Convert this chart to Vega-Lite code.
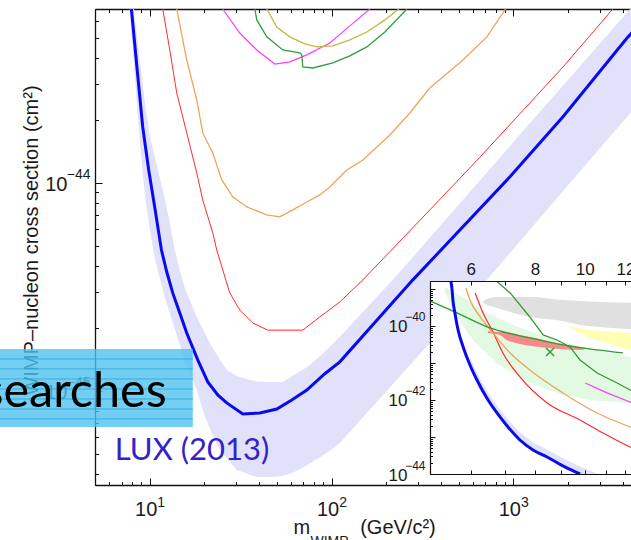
{
  "$schema": "https://vega.github.io/schema/vega-lite/v6.json",
  "width": 536,
  "height": 476,
  "autosize": "none",
  "padding": {"left": 95, "top": 9, "right": 0, "bottom": 55},
  "background": "white",
  "config": {
    "view": {"stroke": null},
    "axis": {
      "grid": false,
      "labelFont": "Liberation Sans",
      "titleFont": "Liberation Sans",
      "labelColor": "#1a1a1a",
      "titleColor": "#1a1a1a",
      "domainColor": "#111111",
      "tickColor": "#111111",
      "titleFontWeight": "normal",
      "labelOverlap": false,
      "labelFlush": false
    }
  },
  "datasets": {
    "lux": [
      {"m": 7.93, "s": 6.86e-44}, {"m": 8.48, "s": 3.69e-44}, {"m": 9.15, "s": 1.86e-44},
      {"m": 9.87, "s": 1.155e-44}, {"m": 10.65, "s": 7.67e-45}, {"m": 11.6, "s": 4.76e-45},
      {"m": 12.41, "s": 3.73e-45}, {"m": 13.38, "s": 2.96e-45}, {"m": 14.63, "s": 2.37e-45},
      {"m": 15.98, "s": 1.9e-45}, {"m": 18.37, "s": 1.41e-45}, {"m": 20.86, "s": 1.105e-45},
      {"m": 23.67, "s": 9.57e-46}, {"m": 26.53, "s": 8.76e-46}, {"m": 32.5, "s": 7.75e-46},
      {"m": 40.31, "s": 7.83e-46}, {"m": 50.0, "s": 8.19e-46}, {"m": 60.46, "s": 9.05e-46},
      {"m": 73.12, "s": 1.01e-45}, {"m": 91.87, "s": 1.21e-45}, {"m": 111.1, "s": 1.38e-45},
      {"m": 280.2, "s": 3.42e-45}, {"m": 958, "s": 1.07e-44}, {"m": 1875, "s": 2.08e-44},
      {"m": 4220, "s": 4.98e-44}, {"m": 4977, "s": 5.81e-44}
    ],
    "luxBand": [
      {"m": 7.76, "s": 1e-43, "s2": 6.86e-44}, {"m": 7.86, "s": 1e-43, "s2": 5.94e-44},
      {"m": 8.27, "s": 6.25e-44, "s2": 3.34e-44}, {"m": 8.81, "s": 3.92e-44, "s2": 1.61e-44},
      {"m": 9.39, "s": 2.46e-44, "s2": 8.85e-45}, {"m": 10.0, "s": 1.69e-44, "s2": 6.01e-45},
      {"m": 10.65, "s": 1.34e-44, "s2": 4.36e-45}, {"m": 11.35, "s": 1.063e-44, "s2": 3.49e-45},
      {"m": 12.09, "s": 8.41e-45, "s2": 2.84e-45}, {"m": 12.89, "s": 6.42e-45, "s2": 2.37e-45},
      {"m": 13.73, "s": 4.76e-45, "s2": 1.99e-45}, {"m": 14.63, "s": 3.79e-45, "s2": 1.67e-45},
      {"m": 15.58, "s": 3.13e-45, "s2": 1.41e-45}, {"m": 16.6, "s": 2.74e-45, "s2": 1.23e-45},
      {"m": 18.14, "s": 2.27e-45, "s2": 1.01e-45}, {"m": 20.08, "s": 1.9e-45, "s2": 7.58e-46},
      {"m": 21.94, "s": 1.63e-45, "s2": 6.28e-46}, {"m": 24.29, "s": 1.42e-45, "s2": 5.2e-46},
      {"m": 26.53, "s": 1.26e-45, "s2": 4.76e-46}, {"m": 30.12, "s": 1.18e-45, "s2": 4.17e-46},
      {"m": 34.19, "s": 1.14e-45, "s2": 4.01e-46}, {"m": 38.81, "s": 1.11e-45, "s2": 3.86e-46},
      {"m": 45.76, "s": 1.105e-45, "s2": 3.86e-46}, {"m": 53.95, "s": 1.105e-45, "s2": 3.9e-46},
      {"m": 62.81, "s": 1.2e-45, "s2": 4.09e-46}, {"m": 73.12, "s": 1.3e-45, "s2": 4.38e-46},
      {"m": 86.26, "s": 1.47e-45, "s2": 4.8e-46}, {"m": 97.86, "s": 1.63e-45, "s2": 5.16e-46},
      {"m": 111.1, "s": 1.82e-45, "s2": 5.62e-46}, {"m": 143.1, "s": 2.31e-45, "s2": 7.19e-46},
      {"m": 217.5, "s": 3.42e-45, "s2": 1.08e-45}, {"m": 347.5, "s": 5.46e-45, "s2": 1.7e-45},
      {"m": 715.8, "s": 1.123e-44, "s2": 3.42e-45}, {"m": 1234, "s": 1.94e-44, "s2": 5.96e-45},
      {"m": 2325, "s": 3.64e-44, "s2": 1.137e-44}, {"m": 4438, "s": 6.94e-44, "s2": 2.19e-44}
    ],
    "red": [
      {"m": 11.79, "s": 6.86e-44}, {"m": 12.89, "s": 4.36e-44}, {"m": 14.08, "s": 2.71e-44},
      {"m": 15.98, "s": 1.74e-44}, {"m": 18.14, "s": 1.117e-44}, {"m": 19.57, "s": 8.28e-45},
      {"m": 22.22, "s": 5.75e-45}, {"m": 23.37, "s": 4.76e-45}, {"m": 25.22, "s": 3.82e-45},
      {"m": 27.56, "s": 2.96e-45}, {"m": 31.28, "s": 2.45e-45}, {"m": 36.88, "s": 2.12e-45},
      {"m": 44.61, "s": 1.96e-45}, {"m": 69.5, "s": 1.96e-45}, {"m": 86.26, "s": 2.27e-45},
      {"m": 111.1, "s": 2.68e-45}, {"m": 148.7, "s": 3.42e-45}, {"m": 347.5, "s": 7.42e-45},
      {"m": 655, "s": 1.33e-44}, {"m": 1875, "s": 3.61e-44}, {"m": 3489, "s": 6.79e-44},
      {"m": 3862, "s": 7.42e-44}
    ],
    "orange": [
      {"m": 14.08, "s": 6.86e-44}, {"m": 15.98, "s": 3.9e-44}, {"m": 18.14, "s": 2.51e-44},
      {"m": 19.57, "s": 1.74e-44}, {"m": 22.22, "s": 1.394e-44}, {"m": 24.91, "s": 1.034e-44},
      {"m": 28.63, "s": 8.57e-45}, {"m": 34.19, "s": 7.67e-45}, {"m": 44.05, "s": 7.02e-45},
      {"m": 51.94, "s": 6.87e-45}, {"m": 61.24, "s": 7.42e-45}, {"m": 73.12, "s": 8.1e-45},
      {"m": 86.26, "s": 8.76e-45}, {"m": 97.86, "s": 9.57e-45}, {"m": 121.4, "s": 1.155e-44},
      {"m": 148.7, "s": 1.29e-44}, {"m": 209.4, "s": 1.7e-44}, {"m": 269.7, "s": 2.17e-44},
      {"m": 347.5, "s": 2.86e-44}, {"m": 528, "s": 3.9e-44}, {"m": 715.8, "s": 5.04e-44},
      {"m": 899, "s": 6.79e-44}, {"m": 958, "s": 7.42e-44}
    ],
    "magenta": [
      {"m": 25.22, "s": 6.86e-44}, {"m": 31.28, "s": 5.26e-44}, {"m": 38.81, "s": 4.36e-44},
      {"m": 48.75, "s": 3.73e-44}, {"m": 58.96, "s": 3.82e-44}, {"m": 73.12, "s": 4.13e-44},
      {"m": 97.86, "s": 4.71e-44}, {"m": 126.1, "s": 5.69e-44}, {"m": 162.5, "s": 6.86e-44}
    ],
    "olive": [
      {"m": 44.05, "s": 6.86e-44}, {"m": 50.0, "s": 5.62e-44}, {"m": 58.96, "s": 5.04e-44},
      {"m": 71.3, "s": 4.66e-44}, {"m": 83.0, "s": 4.51e-44}, {"m": 101.7, "s": 4.56e-44},
      {"m": 126.1, "s": 4.87e-44}, {"m": 156.4, "s": 5.32e-44}, {"m": 196.6, "s": 6.08e-44},
      {"m": 234.6, "s": 6.86e-44}
    ],
    "green": [
      {"m": 37.84, "s": 6.86e-44}, {"m": 38.81, "s": 6.08e-44}, {"m": 44.05, "s": 5.04e-44},
      {"m": 53.95, "s": 4.36e-44}, {"m": 66.9, "s": 4.22e-44}, {"m": 68.6, "s": 4.13e-44},
      {"m": 69.5, "s": 3.61e-44}, {"m": 78.9, "s": 3.57e-44}, {"m": 101.7, "s": 3.78e-44},
      {"m": 126.1, "s": 4.08e-44}, {"m": 156.4, "s": 4.51e-44}, {"m": 196.6, "s": 5.32e-44},
      {"m": 259.7, "s": 6.86e-44}
    ],
    "banner": [{"m": 1.494, "m2": 17.25, "s": 1.59e-45, "s2": 6.71e-46}],
    "bannerLines": [
      {"m": 1.494, "m2": 17.25, "s": 1.425e-45}, {"m": 1.494, "m2": 17.25, "s": 1.276e-45},
      {"m": 1.494, "m2": 17.25, "s": 1.142e-45}, {"m": 1.494, "m2": 17.25, "s": 1.022e-45},
      {"m": 1.494, "m2": 17.25, "s": 9.15e-46}, {"m": 1.494, "m2": 17.25, "s": 8.19e-46},
      {"m": 1.494, "m2": 17.25, "s": 7.34e-46}
    ],
    "bannerText": [{"m": 12.4, "s": 8.38e-46, "t": "searches"}],
    "luxLabel": [{"m": 6.42, "s": 4.66e-46, "t": "LUX (2013)"}],
    "insetFrame": [{"m": 5, "m2": 20, "s": 1.64e-39, "s2": 1e-44}],
    "insetGreenRegion": [
      {"m": 5.35, "s": 1.13e-39, "s2": 7.8e-40}, {"m": 5.47, "s": 9.52e-40, "s2": 4.18e-40},
      {"m": 5.64, "s": 7.46e-40, "s2": 1.75e-40}, {"m": 5.85, "s": 5.61e-40, "s2": 8.56e-41},
      {"m": 6.06, "s": 4.01e-40, "s2": 4.18e-41}, {"m": 6.45, "s": 2.25e-40, "s2": 1.82e-41},
      {"m": 6.75, "s": 1.68e-40, "s2": 1.0e-41}, {"m": 7.16, "s": 1.154e-40, "s2": 5.89e-42},
      {"m": 7.59, "s": 8.3e-41, "s2": 3.47e-42}, {"m": 8.18, "s": 5.82e-41, "s2": 2.32e-42},
      {"m": 8.83, "s": 4.18e-41, "s2": 1.55e-42}, {"m": 9.57, "s": 2.97e-41, "s2": 1.22e-42},
      {"m": 10.24, "s": 2.39e-41, "s2": 1.0e-42}, {"m": 11.2, "s": 1.86e-41, "s2": 9.11e-43},
      {"m": 12.25, "s": 1.45e-41, "s2": 8.3e-43}, {"m": 12.81, "s": 1.28e-41, "s2": 7.8e-43}
    ],
    "insetGray": [
      {"m": 6.31, "s": 4.45e-40, "s2": 4.45e-40}, {"m": 6.42, "s": 5.2e-40, "s2": 3.81e-40},
      {"m": 6.54, "s": 5.71e-40, "s2": 3.47e-40}, {"m": 6.75, "s": 6.08e-40, "s2": 3.07e-40},
      {"m": 7.82, "s": 6.08e-40, "s2": 1.75e-40}, {"m": 9.07, "s": 5.04e-40, "s2": 1.365e-40},
      {"m": 9.79, "s": 4.74e-40, "s2": 1.064e-40}, {"m": 10.71, "s": 4.45e-40, "s2": 9.4e-41},
      {"m": 12.81, "s": 4.18e-40, "s2": 7.8e-41}
    ],
    "insetYellow": [
      {"m": 9.24, "s": 1.0e-40, "s2": 1.0e-40}, {"m": 10.24, "s": 7.8e-41, "s2": 4.74e-41},
      {"m": 12.25, "s": 6.47e-41, "s2": 2.25e-41}, {"m": 12.81, "s": 6.08e-41, "s2": 1.98e-41}
    ],
    "insetSalmon": [
      {"m": 6.48, "s": 7.33e-41, "s2": 6.47e-41}, {"m": 6.84, "s": 6.88e-41, "s2": 5.71e-41},
      {"m": 7.0, "s": 6.88e-41, "s2": 4.45e-41}, {"m": 7.48, "s": 5.71e-41, "s2": 3.26e-41},
      {"m": 8.18, "s": 4.45e-41, "s2": 2.71e-41}, {"m": 8.95, "s": 3.26e-41, "s2": 2.39e-41},
      {"m": 9.79, "s": 2.71e-41, "s2": 2.25e-41}, {"m": 10.02, "s": 2.54e-41, "s2": 2.39e-41}
    ],
    "insetLuxBand": [
      {"m": 5.98, "s": 1.41e-41, "s2": 8.83e-42}, {"m": 6.17, "s": 5.55e-42, "s2": 3.47e-42},
      {"m": 6.45, "s": 1.81e-42, "s2": 1.13e-42}, {"m": 6.75, "s": 7.12e-43, "s2": 4.45e-43},
      {"m": 7.09, "s": 2.98e-43, "s2": 1.86e-43}, {"m": 7.48, "s": 1.33e-43, "s2": 8.3e-44},
      {"m": 7.93, "s": 7.12e-44, "s2": 4.45e-44}, {"m": 8.45, "s": 4.61e-44, "s2": 2.88e-44},
      {"m": 9.15, "s": 2.48e-44, "s2": 1.55e-44}, {"m": 9.79, "s": 1.6e-44, "s2": 1.0e-44},
      {"m": 10.6, "s": 1.0e-44, "s2": 1.0e-44}
    ],
    "insetLux": [
      {"m": 5.49, "s": 1.64e-39}, {"m": 5.52, "s": 9.4e-40}, {"m": 5.54, "s": 5.04e-40},
      {"m": 5.59, "s": 2.25e-40}, {"m": 5.67, "s": 7.8e-41}, {"m": 5.8, "s": 2.71e-41},
      {"m": 5.98, "s": 8.83e-42}, {"m": 6.17, "s": 3.47e-42}, {"m": 6.45, "s": 1.13e-42},
      {"m": 6.75, "s": 4.45e-43}, {"m": 7.09, "s": 1.86e-43}, {"m": 7.48, "s": 8.3e-44},
      {"m": 7.93, "s": 4.45e-44}, {"m": 8.45, "s": 2.88e-44}, {"m": 9.15, "s": 1.55e-44},
      {"m": 9.79, "s": 1.0e-44}
    ],
    "insetRed": [
      {"m": 6.12, "s": 7.8e-40}, {"m": 6.34, "s": 2.25e-40}, {"m": 6.6, "s": 7.8e-41},
      {"m": 6.93, "s": 1.86e-41}, {"m": 7.48, "s": 4.18e-42}, {"m": 8.45, "s": 8.3e-43},
      {"m": 9.79, "s": 2.88e-43}, {"m": 10.86, "s": 1.28e-43}, {"m": 12.25, "s": 5.37e-44},
      {"m": 12.81, "s": 4.18e-44}
    ],
    "insetOrange": [
      {"m": 5.87, "s": 1.06e-39}, {"m": 5.98, "s": 5.04e-40}, {"m": 6.26, "s": 1.75e-40},
      {"m": 6.63, "s": 6.47e-41}, {"m": 7.16, "s": 1.86e-41}, {"m": 7.82, "s": 6.47e-42},
      {"m": 9.07, "s": 1.55e-42}, {"m": 10.57, "s": 4.45e-43}, {"m": 12.25, "s": 1.86e-43},
      {"m": 12.81, "s": 1.45e-43}
    ],
    "insetGreenA": [
      {"m": 5.0, "s": 4.74e-40}, {"m": 5.64, "s": 2.25e-40}, {"m": 6.54, "s": 8.83e-41},
      {"m": 7.82, "s": 4.74e-41}, {"m": 9.07, "s": 3.07e-41}, {"m": 10.57, "s": 2.25e-41},
      {"m": 11.87, "s": 1.86e-41}
    ],
    "insetGreenB": [
      {"m": 6.75, "s": 1.6e-39}, {"m": 7.16, "s": 7.8e-40}, {"m": 7.82, "s": 1.75e-40},
      {"m": 8.3, "s": 5.71e-41}, {"m": 8.83, "s": 4.18e-41}, {"m": 9.36, "s": 2.71e-41},
      {"m": 9.79, "s": 1.205e-41}, {"m": 10.57, "s": 5.37e-42}, {"m": 11.56, "s": 2.88e-42},
      {"m": 12.25, "s": 1.86e-42}, {"m": 12.81, "s": 1.45e-42}
    ],
    "insetMagenta": [
      {"m": 10.02, "s": 2.88e-42}, {"m": 11.05, "s": 1.55e-42}, {"m": 12.25, "s": 8.83e-43},
      {"m": 12.81, "s": 7.33e-43}
    ],
    "insetCross": [{"m": 8.56, "s": 1.98e-41}]
  },
  "resolve": {"scale": {"x": "independent", "y": "independent"}},
  "layer": [
    {
      "encoding": {
        "x": {
          "field": "m", "type": "quantitative",
          "scale": {"type": "log", "domain": [5, 4438]},
          "axis": {
            "orient": "bottom", "zindex": 0,
            "values": [5, 6, 7, 8, 9, 10, 20, 30, 40, 50, 60, 70, 80, 90, 100, 200, 300, 400, 500, 600, 700, 800, 900, 1000, 2000, 3000, 4000],
            "labelExpr": "abs(log(datum.value)/LN10 - round(log(datum.value)/LN10)) < 0.01 ? '10' : ''",
            "tickSize": {"condition": {"test": "abs(log(datum.value)/LN10 - round(log(datum.value)/LN10)) < 0.01", "value": -7}, "value": -3.5},
            "labelPadding": 21, "labelOffset": -4, "labelFontSize": 20, "domainWidth": 1.3,
            "title": "m\u00a0\u00a0\u00a0\u00a0\u00a0\u00a0\u00a0\u00a0\u00a0(GeV/c²)", "titleFontSize": 20,
            "titleX": 198, "titleY": 48, "titleAlign": "left", "titleBaseline": "alphabetic"
          }
        },
        "y": {
          "field": "s", "type": "quantitative",
          "scale": {"type": "log", "domain": [3.53e-46, 6.86e-44]},
          "axis": {
            "orient": "left", "zindex": 0,
            "values": [4e-46, 5e-46, 6e-46, 7e-46, 8e-46, 9e-46, 1e-45, 2e-45, 3e-45, 4e-45, 5e-45, 6e-45, 7e-45, 8e-45, 9e-45, 1e-44, 2e-44, 3e-44, 4e-44, 5e-44, 6e-44],
            "labelExpr": "abs(log(datum.value)/LN10 - round(log(datum.value)/LN10)) < 0.01 ? '10' : ''",
            "tickSize": {"condition": {"test": "abs(log(datum.value)/LN10 - round(log(datum.value)/LN10)) < 0.01", "value": -7}, "value": -3.5},
            "labelPadding": 35, "labelOffset": 2, "labelFontSize": 20, "domainWidth": 1.3,
            "title": "WIMP–nucleon cross section (cm²)", "titleFontSize": 20,
            "titleX": -58, "titleY": 231, "titleAngle": -90, "titleAlign": "center", "titleBaseline": "alphabetic"
          }
        }
      },
      "layer": [
        {
          "data": {"name": "luxBand"},
          "mark": {"type": "area", "clip": true, "color": "#E1E1F9", "opacity": 1},
          "encoding": {"y2": {"field": "s2"}}
        },
        {"data": {"name": "red"}, "mark": {"type": "line", "clip": true, "color": "#FF2B2B", "strokeWidth": 1}},
        {"data": {"name": "orange"}, "mark": {"type": "line", "clip": true, "color": "#EDA45A", "strokeWidth": 1.3}},
        {"data": {"name": "magenta"}, "mark": {"type": "line", "clip": true, "color": "#FF3CFF", "strokeWidth": 1.2}},
        {"data": {"name": "olive"}, "mark": {"type": "line", "clip": true, "color": "#BDBD45", "strokeWidth": 1.3}},
        {"data": {"name": "green"}, "mark": {"type": "line", "clip": true, "color": "#2F9E3A", "strokeWidth": 1.3}},
        {"data": {"name": "lux"}, "mark": {"type": "line", "clip": true, "color": "#0A0AEE", "strokeWidth": 3}},
        {
          "data": {"name": "banner"},
          "mark": {"type": "rect", "color": "#4FC3F0", "opacity": 0.8},
          "encoding": {"x2": {"field": "m2"}, "y2": {"field": "s2"}}
        },
        {
          "data": {"name": "bannerLines"},
          "mark": {"type": "rule", "color": "#2AA3D8", "strokeWidth": 1, "opacity": 0.8},
          "encoding": {"x2": {"field": "m2"}}
        },
        {
          "data": {"name": "bannerText"},
          "mark": {"type": "text", "align": "right", "baseline": "alphabetic", "font": "Lato", "fontSize": 48.5, "color": "#000000"},
          "encoding": {"text": {"field": "t"}}
        },
        {
          "data": {"name": "luxLabel"},
          "mark": {"type": "text", "align": "left", "baseline": "alphabetic", "font": "Lato", "fontSize": 31, "color": "#3322CC"},
          "encoding": {"text": {"field": "t"}}
        }
      ]
    },
    {
      "data": {"values": [{"m": 10, "s": 1e-44}]},
      "mark": {"type": "point", "opacity": 0},
      "encoding": {
        "x": {
          "field": "m", "type": "quantitative",
          "scale": {"type": "log", "domain": [5, 4438]},
          "axis": {
            "orient": "bottom", "zindex": 0, "domain": false, "tickSize": 0, "tickOpacity": 0,
            "values": [10, 100, 1000],
            "labelExpr": "toString(round(log(datum.value)/LN10))",
            "labelPadding": 10, "labelOffset": 11, "labelFontSize": 14,
            "title": "WIMP", "titleFontSize": 14, "titleAngle": 0,
            "titleX": 215, "titleY": 60, "titleAlign": "left", "titleBaseline": "alphabetic"
          }
        },
        "y": {
          "field": "s", "type": "quantitative",
          "scale": {"type": "log", "domain": [3.53e-46, 6.86e-44]},
          "axis": {
            "orient": "left", "zindex": 0, "domain": false, "tickSize": 0, "tickOpacity": 0,
            "values": [1e-45, 1e-44],
            "labelExpr": "'−' + toString(-round(log(datum.value)/LN10))",
            "labelPadding": 5, "labelOffset": -8, "labelFontSize": 14,
            "title": null
          }
        }
      }
    },
    {
      "data": {"values": [{"m": 10}]},
      "mark": {"type": "point", "opacity": 0},
      "encoding": {
        "x": {
          "field": "m", "type": "quantitative",
          "scale": {"type": "log", "domain": [5, 4438]},
          "axis": {
            "orient": "top", "zindex": 0, "labels": false,
            "values": [5, 6, 7, 8, 9, 10, 20, 30, 40, 50, 60, 70, 80, 90, 100, 200, 300, 400, 500, 600, 700, 800, 900, 1000, 2000, 3000, 4000],
            "tickSize": {"condition": {"test": "abs(log(datum.value)/LN10 - round(log(datum.value)/LN10)) < 0.01", "value": -7}, "value": -3.5},
            "domainWidth": 1.3, "title": null
          }
        }
      }
    },
    {
      "encoding": {
        "x": {
          "field": "m", "type": "quantitative",
          "scale": {"type": "log", "domain": [5, 20], "range": [335, 644.5]},
          "axis": {
            "orient": "top", "offset": -272, "zindex": 1,
            "values": [5, 6, 7, 8, 9, 10, 11, 12, 13, 14, 15, 16, 17, 18, 19, 20],
            "labelExpr": "(datum.value % 2 == 0 && datum.value <= 12) ? toString(datum.value) : ''",
            "tickSize": -4, "labelPadding": 7, "labelFontSize": 17, "domainWidth": 1.2,
            "title": null
          }
        },
        "y": {
          "field": "s", "type": "quantitative",
          "scale": {"type": "log", "domain": [1e-44, 1.64e-39], "range": [465, 272]},
          "axis": {
            "orient": "left", "offset": -335, "zindex": 1,
            "values": [1e-44, 2e-44, 3e-44, 4e-44, 5e-44, 6e-44, 7e-44, 8e-44, 9e-44, 1e-43, 2e-43, 3e-43, 4e-43, 5e-43, 6e-43, 7e-43, 8e-43, 9e-43, 1e-42, 2e-42, 3e-42, 4e-42, 5e-42, 6e-42, 7e-42, 8e-42, 9e-42, 1e-41, 2e-41, 3e-41, 4e-41, 5e-41, 6e-41, 7e-41, 8e-41, 9e-41, 1e-40, 2e-40, 3e-40, 4e-40, 5e-40, 6e-40, 7e-40, 8e-40, 9e-40, 1e-39],
            "labelExpr": "(abs(log(datum.value)/LN10 - round(log(datum.value)/LN10)) < 0.01 && round(log(datum.value)/LN10) % 2 == 0) ? '10' : ''",
            "tickSize": {"condition": {"test": "abs(log(datum.value)/LN10 - round(log(datum.value)/LN10)) < 0.01", "value": -5}, "value": -2.5},
            "labelPadding": 28, "labelOffset": 1, "labelFontSize": 17, "domainWidth": 1.2,
            "title": null
          }
        }
      },
      "layer": [
        {
          "data": {"name": "insetFrame"},
          "mark": {"type": "rect", "color": "white"},
          "encoding": {"x2": {"field": "m2"}, "y2": {"field": "s2"}}
        },
        {
          "data": {"name": "insetGreenRegion"},
          "mark": {"type": "area", "color": "#E2F9E2", "interpolate": "monotone"},
          "encoding": {"y2": {"field": "s2"}}
        },
        {
          "data": {"name": "insetGray"},
          "mark": {"type": "area", "color": "#E0E0E0", "interpolate": "monotone"},
          "encoding": {"y2": {"field": "s2"}}
        },
        {
          "data": {"name": "insetYellow"},
          "mark": {"type": "area", "color": "#FFFFB3"},
          "encoding": {"y2": {"field": "s2"}}
        },
        {
          "data": {"name": "insetSalmon"},
          "mark": {"type": "area", "color": "#F58A8A", "interpolate": "monotone"},
          "encoding": {"y2": {"field": "s2"}}
        },
        {
          "data": {"name": "insetLuxBand"},
          "mark": {"type": "area", "color": "#E1E1F9"},
          "encoding": {"y2": {"field": "s2"}}
        },
        {"data": {"name": "insetRed"}, "mark": {"type": "line", "color": "#FF2B2B", "strokeWidth": 1.2, "interpolate": "monotone"}},
        {"data": {"name": "insetOrange"}, "mark": {"type": "line", "color": "#EDA45A", "strokeWidth": 1.3, "interpolate": "monotone"}},
        {"data": {"name": "insetGreenA"}, "mark": {"type": "line", "color": "#339933", "strokeWidth": 1.3, "interpolate": "monotone"}},
        {"data": {"name": "insetGreenB"}, "mark": {"type": "line", "color": "#339933", "strokeWidth": 1.3}},
        {"data": {"name": "insetMagenta"}, "mark": {"type": "line", "color": "#FF3CFF", "strokeWidth": 1.3}},
        {"data": {"name": "insetLux"}, "mark": {"type": "line", "color": "#0A0AEE", "strokeWidth": 3, "interpolate": "monotone"}},
        {
          "data": {"name": "insetCross"},
          "mark": {"type": "point", "shape": "M-1,-1L1,1M-1,1L1,-1", "size": 64, "filled": false, "stroke": "#3A9A3A", "strokeWidth": 1.5, "opacity": 1}
        }
      ]
    },
    {
      "data": {"values": [{"m": 6, "s": 1e-42}]},
      "mark": {"type": "point", "opacity": 0},
      "encoding": {
        "x": {
          "field": "m", "type": "quantitative",
          "scale": {"type": "log", "domain": [5, 20], "range": [335, 644.5]},
          "axis": {
            "orient": "bottom", "offset": -11, "zindex": 1, "labels": false,
            "values": [5, 6, 7, 8, 9, 10, 11, 12, 13, 14, 15, 16, 17, 18, 19, 20],
            "tickSize": -4, "domainWidth": 1.2, "title": null
          }
        },
        "y": {
          "field": "s", "type": "quantitative",
          "scale": {"type": "log", "domain": [1e-44, 1.64e-39], "range": [465, 272]},
          "axis": {
            "orient": "left", "offset": -335, "zindex": 1, "domain": false, "tickSize": 0, "tickOpacity": 0,
            "values": [1e-44, 1e-42, 1e-40],
            "labelExpr": "'−' + toString(-round(log(datum.value)/LN10))",
            "labelPadding": 5, "labelOffset": -9, "labelFontSize": 12,
            "title": null
          }
        }
      }
    }
  ]
}
